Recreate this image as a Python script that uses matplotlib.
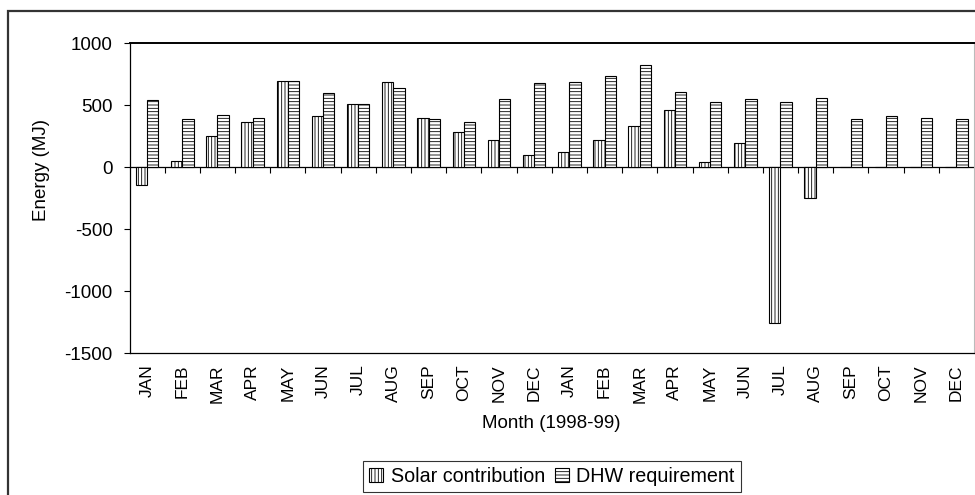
import numpy as np
import matplotlib
matplotlib.use("Agg")
import matplotlib.pyplot as plt
from matplotlib.patches import Rectangle, Patch

plt.rcParams['font.family'] = ['Liberation Sans', 'DejaVu Sans']
plt.rcParams['axes.unicode_minus'] = False
plt.rcParams['hatch.color'] = '#333333'
plt.rcParams['hatch.linewidth'] = 0.6

# Data (MJ)
months = ["JAN", "FEB", "MAR", "APR", "MAY", "JUN", "JUL", "AUG", "SEP", "OCT", "NOV", "DEC",
          "JAN", "FEB", "MAR", "APR", "MAY", "JUN", "JUL", "AUG", "SEP", "OCT", "NOV", "DEC"]
solar = [-141, 48, 249, 362, 700, 416, 512, 689, 400, 287, 222, 99,
         124, 222, 335, 461, 46, 196, -1256, -244, 0, 0, 0, 0]
dhw = [539, 389, 424, 400, 700, 600, 512, 641, 389, 362, 550, 678,
       686, 737, 826, 611, 526, 550, 526, 560, 389, 413, 397, 386]

W, H = 975, 495
fig = plt.figure(figsize=(W / 100, H / 100), dpi=100)

# outer chart border (cut off at right/bottom like the original)
fig.patches.append(Rectangle((8 / W, -0.1), 1.2, 1.1 - 11 / H, transform=fig.transFigure,
                             fill=False, edgecolor='#333333', linewidth=1.6))

ax = fig.add_axes([129.5 / W, 1 - 353.3 / H, (974 - 129.5) / W, (353.3 - 43.3) / H])

x = np.arange(len(months))
w = 0.32
ax.bar(x - w / 2, solar, w, color='white', edgecolor='black', linewidth=0.8,
       hatch='|||||', label='Solar contribution', zorder=2)
ax.bar(x + w / 2, dhw, w, color='white', edgecolor='black', linewidth=0.8,
       hatch='-----', label='DHW requirement', zorder=2)

ax.set_xlim(-0.5, len(months) - 0.5)
ax.set_ylim(-1500, 1000)
ax.set_yticks([-1500, -1000, -500, 0, 500, 1000])
ax.tick_params(axis='y', direction='out', length=4, width=0.8, pad=8, labelsize=13.5)
ax.set_xticks(x)
ax.set_xticklabels(months, rotation=90, fontsize=12.5)
ax.tick_params(axis='x', length=0, pad=8)

for s in ['left', 'bottom', 'top']:
    ax.spines[s].set_color('black')
    ax.spines[s].set_linewidth(0.9)
ax.spines['top'].set_linewidth(1.4)
ax.spines['right'].set_color('#bbbbbb')

# category axis crossing at zero with tick marks between months
sec = ax.secondary_xaxis(1500 / 2500)
sec.set_xticks(x[:-1] + 0.5)
sec.tick_params(direction='in', length=4, width=0.8, labeltop=False, labelbottom=False)
sec.spines['top'].set_linewidth(0.9)

ax.set_ylabel("Energy (MJ)", fontsize=13.5)
ax.yaxis.set_label_coords(-0.094, 0.59)
ax.set_xlabel("Month (1998-99)", fontsize=13.5)
ax.xaxis.set_label_coords(0.5, -0.2)

handles = [Patch(facecolor='white', edgecolor='black', hatch='|||||', linewidth=0.8),
           Patch(facecolor='white', edgecolor='black', hatch='-----', linewidth=0.8)]
leg = fig.legend(handles, ['Solar contribution', 'DHW requirement'], loc='upper left',
                 bbox_to_anchor=(363 / W, 1 - 461 / H), ncol=2, fontsize=14.2,
                 frameon=True, fancybox=False, shadow=False, borderpad=0.3,
                 handlelength=0.7, handleheight=0.7, handletextpad=0.4, columnspacing=0.5,
                 borderaxespad=0)
leg.get_frame().set_edgecolor('black')
leg.get_frame().set_linewidth(0.8)

fig.savefig("out.png", dpi=100)
